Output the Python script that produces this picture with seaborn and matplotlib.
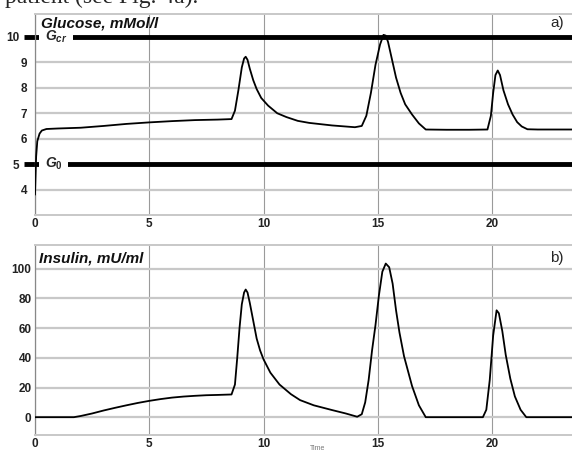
import numpy as np
import pandas as pd
import seaborn as sns
from matplotlib import pyplot as plt
from matplotlib.transforms import ScaledTranslation

# glucose curve, read off panel a)
t_glu = [0, 0.05, 0.1, 0.2, 0.3, 0.5, 1, 2, 3, 4, 5, 6, 7, 8, 8.6, 8.75, 8.9, 9.05, 9.15,
         9.22, 9.3, 9.4, 9.55, 9.7, 9.9, 10.2, 10.6, 11.0, 11.5, 12, 13, 14.0, 14.3, 14.5,
         14.7, 14.9, 15.1, 15.25, 15.35, 15.45, 15.6, 15.8, 16.0, 16.2, 16.5, 16.8, 17.1,
         18, 19, 19.8, 19.95, 20.05, 20.15, 20.25, 20.35, 20.5, 20.7, 20.9, 21.1, 21.3,
         21.55, 22, 23, 23.5]
glucose = [3.8, 5.3, 5.9, 6.2, 6.32, 6.38, 6.4, 6.43, 6.5, 6.58, 6.64, 6.69, 6.73, 6.75, 6.77,
           7.1, 7.9, 8.8, 9.15, 9.22, 9.1, 8.75, 8.3, 7.95, 7.6, 7.3, 7.0, 6.85, 6.7, 6.62,
           6.52, 6.45, 6.5, 6.9, 7.8, 8.9, 9.7, 10.08, 10.05, 9.8, 9.2, 8.4, 7.8, 7.35, 6.95,
           6.6, 6.36, 6.35, 6.35, 6.36, 6.9, 7.8, 8.5, 8.68, 8.5, 7.9, 7.35, 6.95, 6.65, 6.48,
           6.37, 6.36, 6.36, 6.36]

# insulin curve, read off panel b)
t_ins = [0, 1, 1.7, 2, 2.5, 3, 3.5, 4, 4.5, 5, 5.5, 6, 6.5, 7, 7.5, 8, 8.6, 8.75, 8.85, 8.95,
         9.05, 9.15, 9.22, 9.3, 9.4, 9.55, 9.7, 9.85, 10.0, 10.3, 10.7, 11.2, 11.6, 12.2, 13,
         13.6, 14.1, 14.3, 14.45, 14.6, 14.75, 14.9, 15.05, 15.2, 15.35, 15.5, 15.65, 15.8,
         15.95, 16.15, 16.5, 16.8, 17.1, 18, 19, 19.6, 19.75, 19.9, 20.05, 20.2, 20.3, 20.45,
         20.6, 20.8, 21.0, 21.25, 21.5, 22, 23, 23.5]
insulin = [0, 0, 0, 0.8, 2.5, 4.5, 6.3, 8, 9.6, 11, 12.2, 13.2, 13.9, 14.4, 14.8, 15, 15.3, 22,
           40, 60, 76, 84, 86, 84, 77, 65, 53, 45, 39, 30, 22, 15.5, 11.5, 8, 4.8, 2.5, 0.3, 2,
           10, 25, 45, 62, 82, 98, 103.5, 101, 90, 72, 57, 41, 21, 8, 0, 0, 0, 0, 5, 25, 55,
           72, 70, 58, 42, 26, 14, 5, 0, 0, 0, 0]

g_levels = [10, 5]
g_names = [r'$G_{cr}$', r'$G_{\mathit{0}}$']
glu_ticks = [4, 5, 6, 7, 8, 9, 10]
ins_ticks = [0, 20, 40, 60, 80, 100]
x_ticks = [0, 5, 10, 15, 20]

sns.set_theme(style="whitegrid")
plt.rcParams['font.family'] = ['Liberation Sans', 'DejaVu Sans']
plt.rcParams['mathtext.fontset'] = 'custom'
plt.rcParams['mathtext.it'] = 'Liberation Sans:italic:bold'
plt.rcParams['mathtext.rm'] = 'Liberation Sans:bold'

df_glu = pd.DataFrame({'t': t_glu, 'g': glucose})
df_ins = pd.DataFrame({'t': t_ins, 'i': insulin})

fig = plt.figure(figsize=(5.72, 4.53), dpi=100)
ax1 = fig.add_axes([35/572, 1-215/453, 1-35/572, (215-14)/453])
ax2 = fig.add_axes([35/572, 1-435/453, 1-35/572, (435-245)/453])

sns.lineplot(data=df_glu, x='t', y='g', ax=ax1, color='black', lw=1.3, zorder=4)
ax1.set_ylim(3, 10.9)
ax1.set_yticks(glu_ticks)

sns.lineplot(data=df_ins, x='t', y='i', ax=ax2, color='black', lw=1.3, zorder=4)
ax2.set_ylim(-12, 116)
ax2.set_yticks(ins_ticks)

for ax in (ax1, ax2):
    ax.set_facecolor('white')
    ax.grid(axis='y', color='#c8c8c8', lw=1.6)
    ax.grid(axis='x', color='#9a9a9a', lw=0.8)
    ax.set_xlim(0, 23.5)
    ax.set_xticks(x_ticks)
    for s in ['left', 'bottom', 'top']:
        ax.spines[s].set_visible(True)
        ax.spines[s].set_color('#c8c8c8')
        ax.spines[s].set_linewidth(1.4)
    ax.spines['left'].set_color('#888888')
    ax.spines['left'].set_linewidth(0.9)
    ax.spines['right'].set_visible(False)
    ax.tick_params(axis='both', labelsize=8.5, colors='#222222', length=0)
    ax.tick_params(axis='x', pad=2)
    ax.set_xlabel('')
    ax.set_ylabel('')
    for lab in ax.get_xticklabels() + ax.get_yticklabels():
        lab.set_fontweight('bold')

ax1.tick_params(axis='y', pad=5.5)
ax2.tick_params(axis='y', pad=2.5)

# the tick labels of the two levels sit further left, beside the line stub
for lab, val in zip(ax1.get_yticklabels(), glu_ticks):
    if val in g_levels:
        lab.set_transform(lab.get_transform() + ScaledTranslation(-6/72, 0, fig.dpi_scale_trans))

for lvl, name in zip(g_levels, g_names):
    ax1.plot([-0.5, 23.5], [lvl, lvl], color='black', lw=3.5, zorder=1.9,
             clip_on=False, solid_capstyle='butt')
    ax1.text(0.42, lvl, name, fontsize=10, va='center', ha='left', zorder=2,
             bbox=dict(facecolor='white', edgecolor='none', pad=4))
ax1.text(0.012, 0.955, 'Glucose, mMol/l', transform=ax1.transAxes, fontsize=11,
         fontweight='bold', fontstyle='italic', va='center', color='#111111')
ax1.text(0.985, 0.955, 'a)', transform=ax1.transAxes, fontsize=11, ha='right', va='center')

ax2.text(0.008, 0.93, 'Insulin, mU/ml', transform=ax2.transAxes, fontsize=11,
         fontweight='bold', fontstyle='italic', va='center', color='#111111')
ax2.text(0.985, 0.93, 'b)', transform=ax2.transAxes, fontsize=11, ha='right', va='center')

# leftovers of the surrounding page (cut at the edges as in the scan)
fig.text(0.008, 1 - 3.5/453, 'patient (see Fig. 4a).', family='Liberation Serif',
         fontsize=17, va='baseline', ha='left')
fig.text(310/572, 1 - 449/453, 'Time', fontsize=5, color='#777777', va='center')

fig.savefig('out.png', dpi=100)
